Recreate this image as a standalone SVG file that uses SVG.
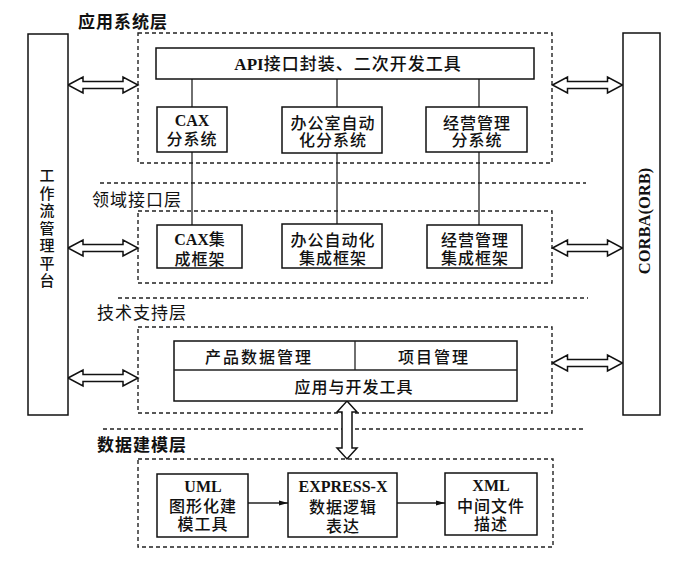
<svg xmlns="http://www.w3.org/2000/svg" width="686" height="569" viewBox="0 0 686 569">
<style>
.bg{fill:#fff}
.box{fill:#fff;stroke:#111;stroke-width:1.5}
.dash{fill:none;stroke:#222;stroke-width:1.4;stroke-dasharray:4 3}
.ln{fill:none;stroke:#222;stroke-width:1.3}
.dbl{fill:#fff;stroke:#111;stroke-width:1.5;stroke-linejoin:miter}
.t{font-family:"Liberation Serif","Noto Sans CJK SC",serif;font-size:16px;fill:#111;text-anchor:middle;font-weight:500;letter-spacing:1px}
.lat{font-weight:bold;letter-spacing:0}
.title{font-family:"Liberation Serif","Noto Sans CJK SC",serif;font-size:17px;fill:#111;letter-spacing:1px}
.b{font-weight:bold}
</style>
<defs>
<marker id="ah" markerWidth="10" markerHeight="8" refX="9" refY="4" orient="auto" markerUnits="userSpaceOnUse">
<path d="M0,1.5 L9,4 L0,6.5 Z" fill="#111"/>
</marker>
<path id="harrow" d="M-35,0 L-20,-8 L-20,-3.5 L20,-3.5 L20,-8 L35,0 L20,8 L20,3.5 L-20,3.5 L-20,8 Z"/>
</defs>
<rect class="bg" x="0" y="0" width="686" height="569"/>

<g id="layers">
<g id="layer-app">
<text class="title b" x="78" y="28">应用系统层</text>
<rect class="dash" x="138" y="33" width="414" height="130"/>
</g>
<line class="dash" x1="100" y1="183" x2="586" y2="183"/>
<g id="layer-domain">
<text class="title" x="92" y="206">领域接口层</text>
<rect class="dash" x="138" y="211" width="414" height="72"/>
</g>
<line class="dash" x1="118" y1="298" x2="588" y2="298"/>
<g id="layer-tech">
<text class="title" x="97" y="319">技术支持层</text>
<rect class="dash" x="138" y="327" width="414" height="86"/>
</g>
<line class="dash" x1="103" y1="429" x2="584" y2="429"/>
<g id="layer-data">
<text class="title b" x="97" y="451">数据建模层</text>
<rect class="dash" x="138" y="459" width="415" height="88"/>
</g>
</g>

<g id="connectors">
<line class="ln" x1="192" y1="79" x2="192" y2="225"/>
<line class="ln" x1="337" y1="79" x2="337" y2="224"/>
<line class="ln" x1="479" y1="79" x2="479" y2="225"/>
<use href="#harrow" class="dbl" transform="translate(103,85)"/>
<use href="#harrow" class="dbl" transform="translate(103,248)"/>
<use href="#harrow" class="dbl" transform="translate(103,378)"/>
<use href="#harrow" class="dbl" transform="translate(587.5,85)"/>
<use href="#harrow" class="dbl" transform="translate(587.5,248)"/>
<use href="#harrow" class="dbl" transform="translate(587.5,363)"/>
<path class="dbl" d="M347,401 L357,412 L352,412 L352,448 L357,448 L347,459 L337,448 L342,448 L342,412 L337,412 Z"/>
<line class="ln" x1="248" y1="503" x2="288" y2="503" marker-end="url(#ah)"/>
<line class="ln" x1="397" y1="503" x2="445" y2="503" marker-end="url(#ah)"/>
</g>

<g id="workflow">
<rect class="box" x="28" y="34" width="40" height="381"/>
<text class="t" style="font-size:15px;letter-spacing:0">
<tspan x="47" y="181">工</tspan><tspan x="47" y="198.5">作</tspan><tspan x="47" y="216">流</tspan><tspan x="47" y="233.5">管</tspan><tspan x="47" y="251">理</tspan><tspan x="47" y="268.5">平</tspan><tspan x="47" y="286">台</tspan>
</text>
</g>
<g id="corba">
<rect class="box" x="623" y="33" width="37" height="382"/>
<text class="t lat" style="font-size:16.5px" transform="translate(650,221) rotate(-90)" x="0" y="0">CORBA(ORB)</text>
</g>

<g id="api">
<rect class="box" x="156" y="48" width="378" height="31"/>
<text class="t" x="348" y="70" style="font-size:17px"><tspan class="lat">API</tspan>接口封装、二次开发工具</text>
</g>
<g id="cax-sub">
<rect class="box" x="157" y="107" width="70" height="45"/>
<text class="t"><tspan class="lat" x="192" y="126">CAX</tspan><tspan x="192" y="145">分系统</tspan></text>
</g>
<g id="oa-sub">
<rect class="box" x="282" y="107" width="100" height="46"/>
<text class="t"><tspan x="333" y="129">办公室自动</tspan><tspan x="333" y="146">化分系统</tspan></text>
</g>
<g id="bm-sub">
<rect class="box" x="426" y="107" width="101" height="45"/>
<text class="t"><tspan x="477" y="129">经营管理</tspan><tspan x="477" y="146">分系统</tspan></text>
</g>

<g id="cax-fw">
<rect class="box" x="157" y="225" width="85" height="43"/>
<text class="t"><tspan x="200" y="245"><tspan class="lat">CAX</tspan>集</tspan><tspan x="200" y="265">成框架</tspan></text>
</g>
<g id="oa-fw">
<rect class="box" x="282" y="224" width="100" height="44"/>
<text class="t"><tspan x="333" y="246">办公自动化</tspan><tspan x="333" y="264">集成框架</tspan></text>
</g>
<g id="bm-fw">
<rect class="box" x="427" y="225" width="95" height="43"/>
<text class="t"><tspan x="475" y="246">经营管理</tspan><tspan x="475" y="264">集成框架</tspan></text>
</g>

<g id="tech-table">
<rect class="box" x="174" y="341" width="343" height="60"/>
<line class="ln" x1="174" y1="370" x2="517" y2="370"/>
<line class="ln" x1="355" y1="341" x2="355" y2="370"/>
<text class="t" x="259" y="363" style="letter-spacing:2px">产品数据管理</text>
<text class="t" x="434" y="363" style="letter-spacing:2px">项目管理</text>
<text class="t" x="354" y="393">应用与开发工具</text>
</g>

<g id="uml">
<rect class="box" x="157" y="474" width="91" height="63"/>
<text class="t"><tspan class="lat" x="203" y="492">UML</tspan><tspan x="203" y="512">图形化建</tspan><tspan x="203" y="530">模工具</tspan></text>
</g>
<g id="express">
<rect class="box" x="288" y="473" width="109" height="64"/>
<text class="t"><tspan class="lat" x="343" y="492">EXPRESS-X</tspan><tspan x="343" y="513">数据逻辑</tspan><tspan x="343" y="532">表达</tspan></text>
</g>
<g id="xml">
<rect class="box" x="445" y="473" width="92" height="62"/>
<text class="t"><tspan class="lat" x="491" y="491">XML</tspan><tspan x="491" y="512">中间文件</tspan><tspan x="491" y="530">描述</tspan></text>
</g>
</svg>
